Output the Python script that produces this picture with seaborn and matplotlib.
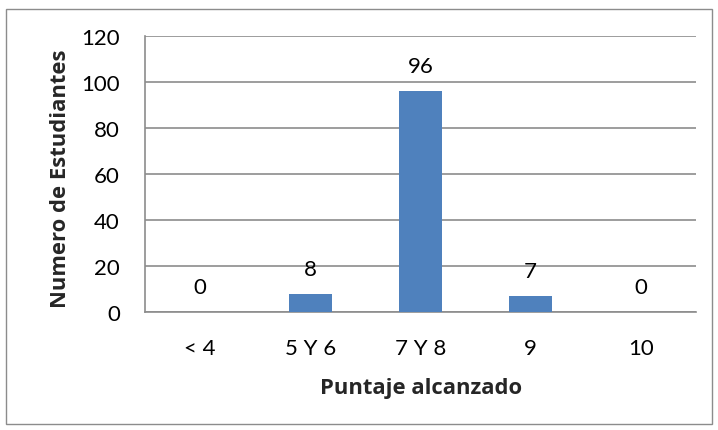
import matplotlib
matplotlib.use("Agg")
import matplotlib.pyplot as plt
import seaborn as sns
import pandas as pd
from matplotlib.patches import Rectangle

categories = ["< 4", "5 Y 6", "7 Y 8", "9", "10"]
values = [0, 8, 96, 7, 0]
yticks = [0, 20, 40, 60, 80, 100, 120]

sns.set_theme(style="white")
plt.rcParams['font.family'] = ['Lato', 'DejaVu Sans']

df = pd.DataFrame({"cat": categories, "val": values})

fig = plt.figure(figsize=(7.18, 4.31), dpi=100)
ax = fig.add_axes([145/718, 1 - 313/431, (696-145)/718, (313-37)/431])

sns.barplot(data=df, x="cat", y="val", color="#4F81BD", width=0.39,
            saturation=1, ax=ax, zorder=3, linewidth=0)

FS = 16
ax.set_ylim(0, 120)
ax.set_yticks(yticks)
ax.set_xlim(-0.5, len(categories) - 0.5)
ax.grid(axis="y", color="#8c8c8c", linewidth=1.2, zorder=0)
ax.set_axisbelow(True)
for s in ["top", "right"]:
    ax.spines[s].set_visible(False)
for s in ["left", "bottom"]:
    ax.spines[s].set_color("#8c8c8c")
    ax.spines[s].set_linewidth(1.2)
ax.tick_params(axis="y", length=7, color="#8c8c8c", width=1.2, labelsize=FS, pad=11)
ax.tick_params(axis="x", length=0, labelsize=FS, pad=19)
for t in ax.get_yticklabels() + ax.get_xticklabels():
    t.set_color("black")

for i, v in enumerate(values):
    ax.annotate(str(v), (i, v), xytext=(0, 18), textcoords="offset points",
                ha="center", va="center", fontsize=FS, color="black")

lab_font = dict(family=["Open Sans", "DejaVu Sans"], fontsize=15.8, fontweight="bold")
ax.set_xlabel("Puntaje alcanzado", **lab_font)
ax.set_ylabel("Numero de Estudiantes", **lab_font)
ax.xaxis.set_label_coords(0.501, -0.235)
ax.yaxis.set_label_coords(-0.135, 0.486)

fig.patches.append(Rectangle((6/718, 6/431), (712-6)/718, (423-8)/431,
                             transform=fig.transFigure, fill=False,
                             edgecolor="#8c8c8c", linewidth=1))

fig.savefig("out.png", dpi=100, facecolor="white")
